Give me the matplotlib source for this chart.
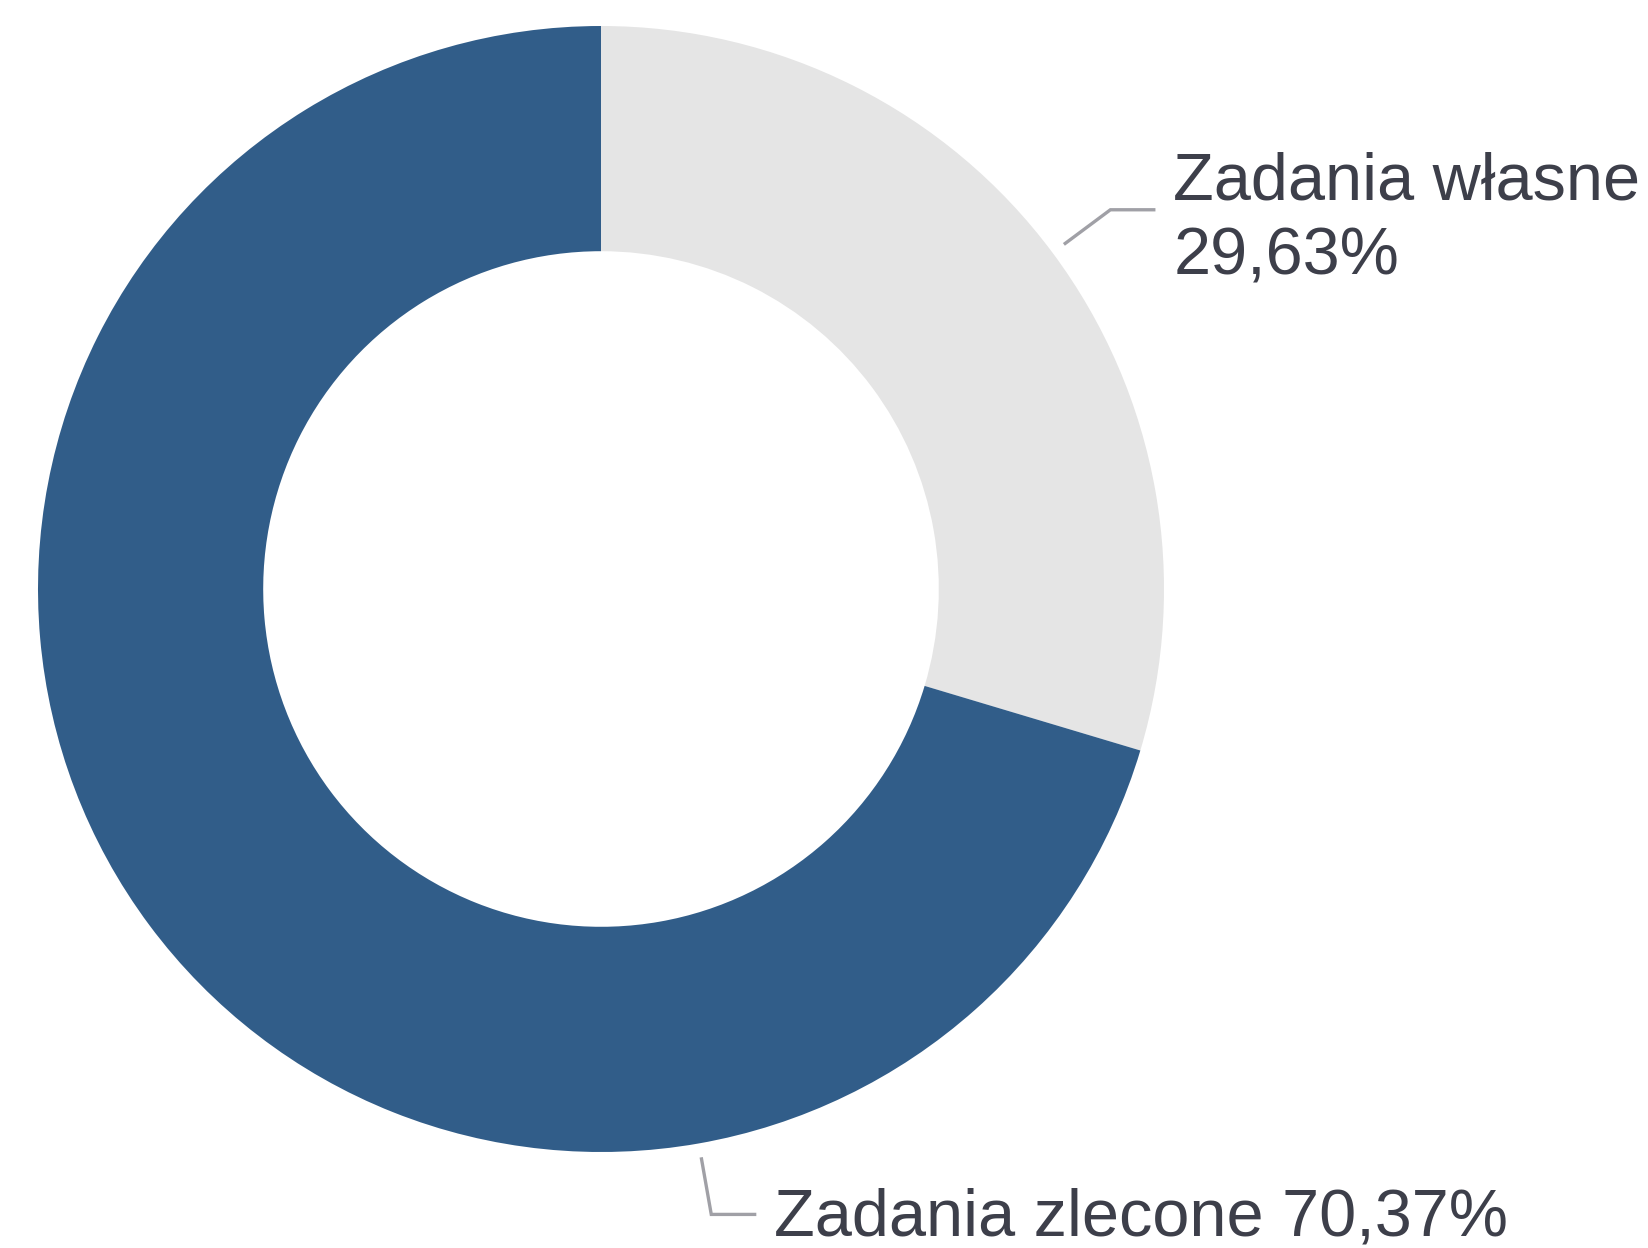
import numpy as np
import matplotlib.pyplot as plt

labels = ["Zadania własne", "Zadania zlecone"]
shares = [29.63, 70.37]
colors = ["#e5e5e5", "#315d89"]
label_angles = [None, -80.0]   # None -> use slice mid angle

plt.rcParams['font.family'] = ['Liberation Sans', 'DejaVu Sans']

fig = plt.figure(figsize=(16.49, 12.48), dpi=100)
ax = fig.add_axes([0, 0, 1, 1])
R = 563.0
cx, cy = 601.0, 589.0

wedges, _ = ax.pie(shares, colors=colors, startangle=90, counterclock=False,
                   radius=1.0, wedgeprops=dict(width=0.4, linewidth=0))
ax.set_xlim(-cx / R, (1649 - cx) / R)
ax.set_ylim(-(1248 - cy) / R, cy / R)
ax.axis('off')

line_col = "#a0a0a6"
text_col = "#3d3f4a"
texts = [f"{labels[0]}\n{shares[0]:.2f}%".replace('.', ','),
         f"{labels[1]} {shares[1]:.2f}%".replace('.', ',')]

for w, ang, txt in zip(wedges, label_angles, texts):
    if ang is None:
        ang = (w.theta1 + w.theta2) / 2
    a = np.deg2rad(ang)
    x0, y0 = 1.025 * np.cos(a), 1.025 * np.sin(a)
    x1, y1 = 1.128 * np.cos(a), 1.128 * np.sin(a)
    x2 = x1 + 0.08
    ax.plot([x0, x1, x2], [y0, y1, y1], color=line_col, lw=2.4,
            solid_capstyle='butt', solid_joinstyle='miter')
    dy = -0.008 if '\n' not in txt else -0.018
    ax.text(x2 + 0.032, y1 + dy, txt, ha='left', va='center', fontsize=48,
            color=text_col, linespacing=1.28)

fig.savefig("out.png", dpi=100)
